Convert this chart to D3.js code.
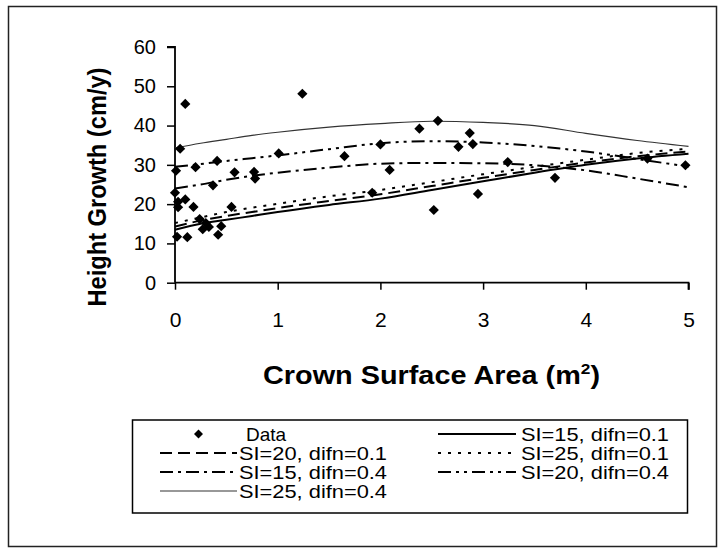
<!DOCTYPE html>
<html>
<head>
<meta charset="utf-8">
<script src="https://cdn.jsdelivr.net/npm/d3@7"></script>
<style>
  html, body { margin: 0; padding: 0; background: #fff; }
  svg { display: block; }
  text { font-family: "Liberation Sans", Arial, "DejaVu Sans", sans-serif; fill: #000; }
</style>
</head>
<body>
<svg id="chart" width="723" height="552"></svg>
<script>
// ---- Data ----
const dataX = [0.00, 0.01, 0.05, 0.10, 0.03, 0.03, 0.10, 0.02, 0.12, 0.18, 0.20, 0.24, 0.27, 0.30, 0.33, 0.37, 0.41, 0.42, 0.45, 0.55, 0.58, 0.77, 0.78, 1.01, 1.24, 1.65, 1.92, 2.00, 2.09, 2.38, 2.52, 2.56, 2.76, 2.87, 2.90, 2.95, 3.24, 3.70, 4.60, 4.97];
const dataY = [22.9, 28.5, 34.1, 45.5, 19.2, 20.6, 21.2, 11.7, 11.6, 19.3, 29.4, 16.2, 13.6, 15.2, 14.2, 24.8, 31.0, 12.2, 14.4, 19.3, 28.1, 28.2, 26.5, 32.9, 48.1, 32.2, 22.9, 35.2, 28.7, 39.2, 18.5, 41.2, 34.6, 38.1, 35.3, 22.6, 30.7, 26.7, 31.6, 29.9];

const curveX = [0, 0.25, 0.5, 0.75, 1, 1.5, 2, 2.5, 3, 3.5, 4, 4.5, 5];
const si15_01 = [13.5, 15.0, 16.0, 17.0, 18.0, 19.8, 21.4, 23.6, 25.8, 28.0, 30.0, 31.6, 32.8];
const si20_01 = [14.3, 15.8, 17.0, 18.0, 19.0, 20.8, 22.5, 24.6, 26.7, 28.7, 30.6, 32.2, 33.4];
const si25_01 = [15.2, 16.6, 18.0, 19.1, 20.1, 22.0, 23.6, 25.6, 27.6, 29.5, 31.3, 33.0, 34.1];
const si15_04 = [24.0, 25.0, 26.2, 27.2, 28.0, 29.3, 30.3, 30.5, 30.4, 29.9, 28.6, 26.5, 24.3];
const si20_04 = [29.5, 30.2, 31.0, 31.7, 32.4, 34.0, 35.5, 36.0, 35.7, 34.8, 33.4, 31.5, 29.5];
const si25_04 = [34.3, 35.5, 36.5, 37.5, 38.3, 39.6, 40.5, 41.1, 40.8, 40.0, 38.0, 36.2, 34.7];

const xTicks = [0, 1, 2, 3, 4, 5];
const yTicks = [0, 10, 20, 30, 40, 50, 60];

const seriesNames = ["SI=15, difn=0.1", "SI=20, difn=0.1", "SI=25, difn=0.1", "SI=15, difn=0.4", "SI=20, difn=0.4", "SI=25, difn=0.4"];
const seriesValues = [si15_01, si20_01, si25_01, si15_04, si20_04, si25_04];

// ---- Styles ----
const styles = [
  { dash: null,            width: 2.0, color: "#000" },
  { dash: "12,6",          width: 2.0, color: "#000" },
  { dash: "3,7",           width: 2.0, color: "#000" },
  { dash: "13,5,3,5",      width: 2.0, color: "#000" },
  { dash: "13,5,3,5,3,5",  width: 2.0, color: "#000" },
  { dash: null,            width: 1.2, color: "#333" }
];

const svg = d3.select("#chart");
svg.append("rect").attr("width", 723).attr("height", 552).attr("fill", "#fff");
// outer border
svg.append("rect").attr("x", 8.5).attr("y", 6.5).attr("width", 708).attr("height", 540)
  .attr("fill", "none").attr("stroke", "#222").attr("stroke-width", 1.5);

const x = d3.scaleLinear().domain([0, 5]).range([175, 688.5]);
const y = d3.scaleLinear().domain([0, 60]).range([282.7, 47]);

// axes
const yAxis = d3.axisLeft(y).tickValues(yTicks).tickSize(8).tickPadding(11).tickFormat(d3.format("d"));
const gy = svg.append("g").attr("transform", `translate(${x(0)},0)`).call(yAxis);
gy.select(".domain").attr("stroke", "#000").attr("stroke-width", 1.8).attr("d", `M-8,${y(60)}H0V${y(0)}`);
gy.selectAll(".tick line").attr("stroke", "#000").attr("stroke-width", 1.5);
gy.selectAll(".tick text").attr("font-size", 20).attr("font-family", "Liberation Sans, Arial, sans-serif");

const xAxis = d3.axisBottom(x).tickValues(xTicks).tickSize(7).tickPadding(22).tickFormat(d3.format("d"));
const gx = svg.append("g").attr("transform", `translate(0,${y(0)})`).call(xAxis);
gx.select(".domain").attr("stroke", "#000").attr("stroke-width", 1.8).attr("d", `M${x(0)},0H${x(5)}V7`);
gx.selectAll(".tick line").attr("stroke", "#000").attr("stroke-width", 1.5);
gx.selectAll(".tick text").attr("font-size", 21).attr("font-family", "Liberation Sans, Arial, sans-serif");

// lines
const line = d3.line().x((d, i) => x(curveX[i])).y(d => y(d)).curve(d3.curveMonotoneX);
seriesValues.forEach((vals, k) => {
  const st = styles[k];
  svg.append("path").datum(vals).attr("d", line)
    .attr("fill", "none").attr("stroke", st.color).attr("stroke-width", st.width)
    .attr("stroke-dasharray", st.dash);
});

// data points
const diamond = d3.symbol().type(d3.symbolSquare).size(52);
svg.append("g").selectAll("path").data(dataX.map((v, i) => [v, dataY[i]])).join("path")
  .attr("d", diamond)
  .attr("transform", d => `translate(${x(d[0])},${y(d[1])}) rotate(45)`)
  .attr("fill", "#000");

// axis titles
svg.append("text").attr("transform", `translate(106,187) rotate(-90)`)
  .attr("text-anchor", "middle").attr("font-weight", "bold").attr("font-size", 25)
  .attr("textLength", 239).attr("lengthAdjust", "spacingAndGlyphs")
  .text("Height Growth (cm/y)");

const xt = svg.append("text").attr("x", 431.5).attr("y", 384)
  .attr("text-anchor", "middle").attr("font-weight", "bold").attr("font-size", 25)
  .attr("textLength", 337).attr("lengthAdjust", "spacingAndGlyphs");
xt.append("tspan").text("Crown Surface Area (m");
xt.append("tspan").attr("dy", -10).attr("font-size", 15).text("2");
xt.append("tspan").attr("dy", 10).text(")");

// legend
svg.append("rect").attr("x", 132.5).attr("y", 420).attr("width", 555).attr("height", 93)
  .attr("fill", "#fff").attr("stroke", "#000").attr("stroke-width", 1.5);

const rowY = [434, 453, 472, 491];
const legendItems = [
  { col: 0, row: 0, type: "marker", label: "Data" },
  { col: 1, row: 0, type: 0, label: seriesNames[0] },
  { col: 0, row: 1, type: 1, label: seriesNames[1] },
  { col: 1, row: 1, type: 2, label: seriesNames[2] },
  { col: 0, row: 2, type: 3, label: seriesNames[3] },
  { col: 1, row: 2, type: 4, label: seriesNames[4] },
  { col: 0, row: 3, type: 5, label: seriesNames[5] }
];
const colLine = [[160, 237], [438, 516]];
const colText = [239, 521];
legendItems.forEach(it => {
  const yy = rowY[it.row];
  const [lx0, lx1] = colLine[it.col];
  if (it.type === "marker") {
    svg.append("path").attr("d", d3.symbol().type(d3.symbolSquare).size(40))
      .attr("transform", `translate(${(lx0 + lx1) / 2},${yy}) rotate(45)`).attr("fill", "#000");
  } else {
    const st = styles[it.type];
    svg.append("line").attr("x1", lx0).attr("x2", lx1).attr("y1", yy).attr("y2", yy)
      .attr("stroke", st.color).attr("stroke-width", st.width).attr("stroke-dasharray", st.dash);
  }
  const t = svg.append("text").attr("x", colText[it.col] + (it.type === "marker" ? 7 : 0)).attr("y", yy + 7)
    .attr("font-size", 19).text(it.label);
  if (it.type !== "marker") t.attr("textLength", 148).attr("lengthAdjust", "spacingAndGlyphs");
});
</script>
</body>
</html>
